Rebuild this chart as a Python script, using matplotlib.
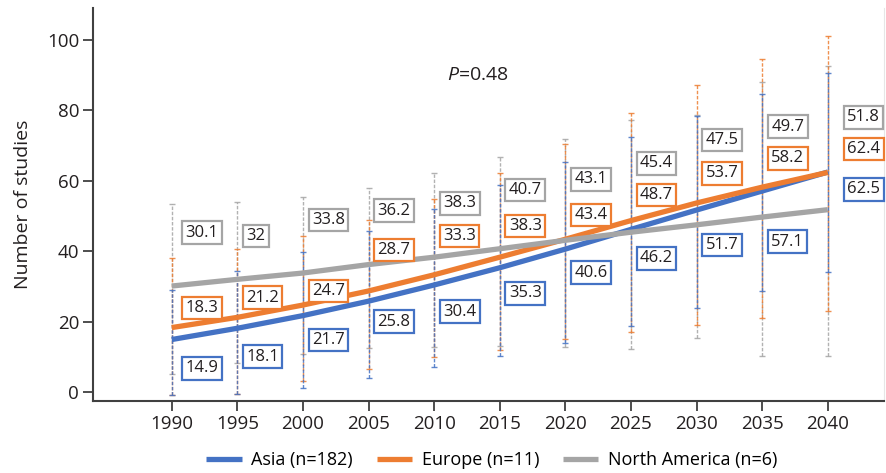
import matplotlib.pyplot as plt
import numpy as np

plt.rcParams['font.family'] = ['Open Sans', 'DejaVu Sans']
plt.rcParams['mathtext.fontset'] = 'custom'
plt.rcParams['mathtext.rm'] = 'Open Sans'
plt.rcParams['mathtext.it'] = 'Open Sans:italic'

years = [1990, 1995, 2000, 2005, 2010, 2015, 2020, 2025, 2030, 2035, 2040]

# projected number of studies per region
asia = [14.9, 18.1, 21.7, 25.8, 30.4, 35.3, 40.6, 46.2, 51.7, 57.1, 62.5]
europe = [18.3, 21.2, 24.7, 28.7, 33.3, 38.3, 43.4, 48.7, 53.7, 58.2, 62.4]
north_america = [30.1, 32, 33.8, 36.2, 38.3, 40.7, 43.1, 45.4, 47.5, 49.7, 51.8]

# interval bounds
asia_low = [-1.0, -0.6, 1.2, 3.9, 7.0, 10.2, 13.9, 18.8, 23.8, 28.7, 34.2]
asia_high = [29.0, 34.4, 39.9, 45.8, 51.9, 58.8, 65.4, 72.4, 78.5, 84.8, 90.5]
europe_low = [-1.0, -0.7, 3.1, 6.4, 9.8, 11.8, 15.1, 17.1, 19.0, 21.1, 23.1]
europe_high = [38.0, 40.6, 44.3, 48.9, 54.8, 62.3, 70.4, 79.2, 87.2, 94.6, 101.2]
na_low = [5.1, 8.1, 10.7, 12.4, 12.9, 13.0, 12.9, 12.2, 15.4, 10.3, 10.2]
na_high = [53.3, 53.9, 55.3, 58.1, 62.1, 66.9, 71.8, 77.3, 78.7, 88.2, 92.6]

labels = ['Asia (n=182)', 'Europe (n=11)', 'North America (n=6)']
colors = ['#4472c4', '#ed7d31', '#a5a5a5']

# where the value boxes sit (y in data units, x offset in points)
asia_box_y = [6.7, 10.0, 14.8, 20.0, 22.8, 28.0, 33.9, 38.0, 41.8, 42.7, 57.6]
europe_box_y = [23.9, 26.8, 28.7, 40.3, 44.3, 47.2, 50.3, 56.0, 62.1, 66.4, 69.0]
na_box_y = [45.3, 44.3, 48.9, 51.5, 53.6, 57.4, 60.4, 65.0, 71.6, 75.4, 78.0]
box_dx = [10, 6.5, 6.5, 6.5, 6.5, 6.5, 6.5, 6.5, 6.5, 6.5, 14]

series = [
    (asia, asia_low, asia_high, asia_box_y),
    (europe, europe_low, europe_high, europe_box_y),
    (north_america, na_low, na_high, na_box_y),
]

fig = plt.figure(figsize=(8.86, 4.73), dpi=100)
ax = fig.add_axes([0.105, 0.152, 0.893, 0.831])

x = np.array(years)

# dashed interval bars, grey at the back
for (vals, lo, hi, _), col in reversed(list(zip(series, colors))):
    vals = np.array(vals)
    yerr = [vals - np.array(lo), np.array(hi) - vals]
    eb = ax.errorbar(x, vals, yerr=yerr, fmt='none', ecolor=col,
                     elinewidth=1.0, capsize=2.5, capthick=1.0, alpha=0.85, zorder=2)
    eb[2][0].set_linestyle((0, (2.5, 1.2)))

# trend lines
for (vals, _, _, _), col, lab in zip(series, colors, labels):
    ax.plot(x, vals, color=col, lw=3.8, solid_capstyle='butt', label=lab, zorder=3)

# boxed values
for (vals, _, _, by), col in zip(series, colors):
    for xi, v, yb, dx in zip(years, vals, by, box_dx):
        ax.annotate(f'{v:g}', xy=(xi, yb), xytext=(dx, 0), textcoords='offset points',
                    ha='left', va='center', fontsize=12, color='#231f20', zorder=4,
                    bbox=dict(boxstyle='square,pad=0.2', fc='white', ec=col, lw=1.6))

ax.text(2013.3, 90, '$P$=0.48', ha='center', va='center', fontsize=14, color='#231f20')

ax.set_xlim(1984, 2044.3)
ax.set_ylim(-2.6, 109.1)
ax.set_xticks(years)
ax.set_yticks([0, 20, 40, 60, 80, 100])
ax.set_ylabel('Number of studies', fontsize=14, color='#231f20', labelpad=11)

ax.spines['top'].set_visible(False)
ax.spines['right'].set_color('#e6e6e6')
ax.spines['right'].set_linewidth(0.8)
for s in ['left', 'bottom']:
    ax.spines[s].set_color('#404040')
    ax.spines[s].set_linewidth(1.5)
ax.tick_params(axis='both', colors='#404040', width=1.3, length=7, labelsize=13.5,
               labelcolor='#231f20', pad=3)

fig.legend(loc='center', bbox_to_anchor=(0.555, 0.027), ncol=3, frameon=False,
           fontsize=13, handlelength=1.95, columnspacing=1.3, handletextpad=0.55,
           borderaxespad=0, borderpad=0)

fig.savefig('out.png', dpi=100)
